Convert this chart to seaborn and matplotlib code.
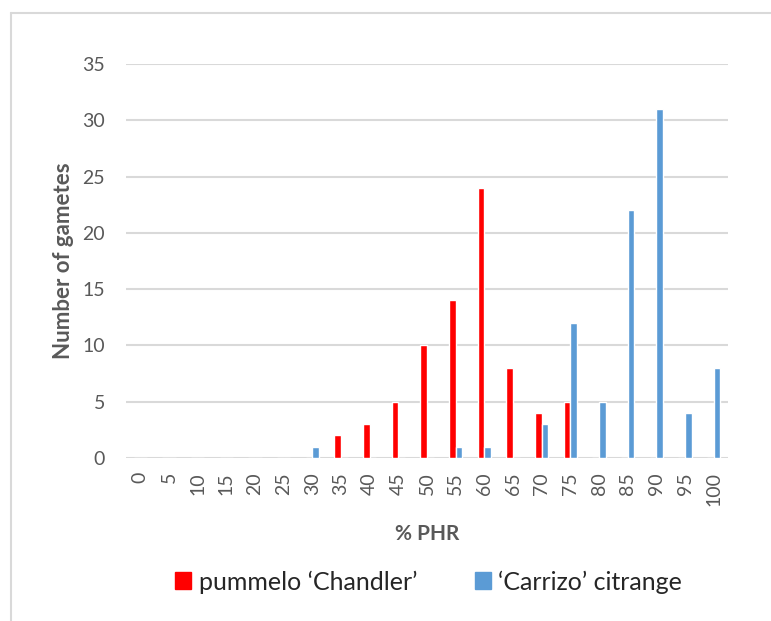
import pandas as pd
import seaborn as sns
import matplotlib.pyplot as plt
from matplotlib.lines import Line2D

# % PHR classes and gamete counts per class
phr = ['0', '5', '10', '15', '20', '25', '30', '35', '40', '45', '50',
       '55', '60', '65', '70', '75', '80', '85', '90', '95', '100']
chandler = [0, 0, 0, 0, 0, 0, 0, 2, 3, 5, 10, 14, 24, 8, 4, 5, 0, 0, 0, 0, 0]
carrizo = [0, 0, 0, 0, 0, 0, 1, 0, 0, 0, 0, 1, 1, 0, 3, 12, 5, 22, 31, 4, 8]
series = ['pummelo \u2018Chandler\u2019', '\u2018Carrizo\u2019 citrange']
colors = ['#FF0000', '#5B9BD5']

df = pd.DataFrame({
    'phr': phr * 2,
    'count': chandler + carrizo,
    'series': [series[0]] * len(phr) + [series[1]] * len(phr),
})

sns.set_style('white')
plt.rcParams['font.family'] = ['Lato', 'DejaVu Sans']

fig = plt.figure(figsize=(7.71, 6.21), dpi=100)
ax = fig.add_axes([126 / 771, 1 - 458 / 621, (728 - 126) / 771, (458 - 64) / 621])

sns.barplot(data=df, x='phr', y='count', hue='series', order=phr,
            hue_order=series, palette=colors, width=0.46, gap=0,
            saturation=1, legend=False, ax=ax)

ax.set_ylim(0, 35)
ax.set_yticks(range(0, 36, 5))
ax.set_xlim(-0.5, len(phr) - 0.5)
ax.yaxis.grid(True, color='#D9D9D9', linewidth=1.5)
ax.set_axisbelow(True)
for s in ax.spines.values():
    s.set_visible(False)
ax.tick_params(axis='both', length=0, colors='#595959', labelsize=14)
ax.tick_params(axis='x', rotation=90, pad=10)
ax.tick_params(axis='y', pad=15)

ax.set_xlabel('% PHR', fontsize=15, fontweight='bold', color='#595959', labelpad=13)
ax.set_ylabel('Number of gametes', fontsize=16, fontweight='bold', color='#595959', labelpad=6)

handles = [plt.Rectangle((0, 0), 1, 1, color=c) for c in colors]
fig.legend(handles, series, loc='center', bbox_to_anchor=(0.556, 0.063), ncol=2,
           frameon=False, fontsize=18, handlelength=0.65, handleheight=0.65,
           handletextpad=0.3, columnspacing=2.3, labelcolor='#262626')

# outer chart border (left and top edges visible)
fig.add_artist(Line2D([11 / 771, 11 / 771], [0, 1 - 13 / 621], transform=fig.transFigure,
                      color='#D9D9D9', linewidth=1.5))
fig.add_artist(Line2D([11 / 771, 1], [1 - 13 / 621, 1 - 13 / 621], transform=fig.transFigure,
                      color='#D9D9D9', linewidth=1.5))

fig.savefig('out.png', dpi=100, facecolor='white')
